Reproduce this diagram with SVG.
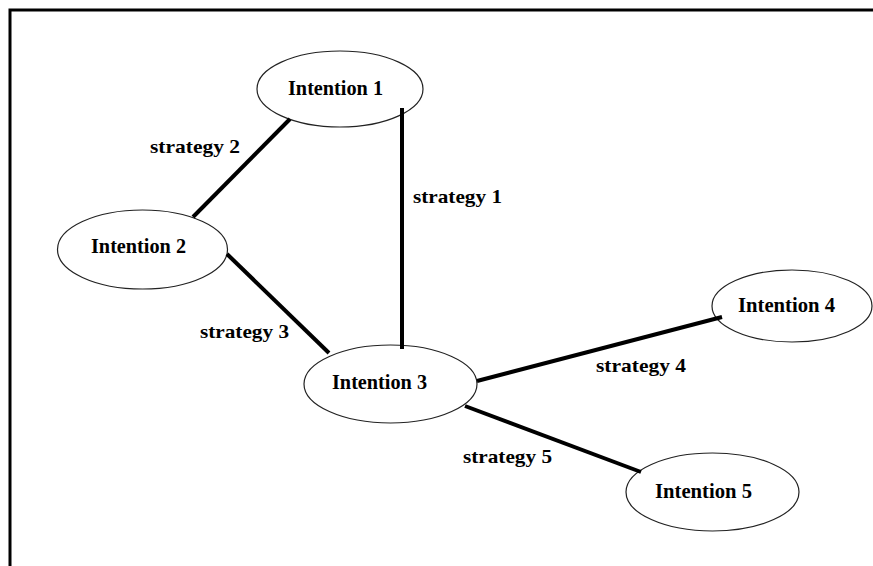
<svg xmlns="http://www.w3.org/2000/svg" width="873" height="566" viewBox="0 0 873 566">
<style>
.node ellipse{fill:#fff;stroke:#222;stroke-width:1.2}
.node text{font-family:"Liberation Serif","Times New Roman",serif;font-weight:bold;font-size:20px;fill:#000}
.edge line{stroke:#000;stroke-width:4;stroke-linecap:butt}
.lbl{font-family:"Liberation Serif","Times New Roman",serif;font-weight:bold;font-size:19.5px;fill:#000}
</style>
<rect width="873" height="566" fill="#fff"/>
<path d="M10,566 V10 H873" fill="none" stroke="#000" stroke-width="3"/>
<g id="intention1" class="node">
<ellipse cx="340" cy="89" rx="83" ry="38"/>
<text x="288" y="95" textLength="95" lengthAdjust="spacingAndGlyphs">Intention 1</text>
</g>
<g id="intention2" class="node">
<ellipse cx="142.5" cy="249.5" rx="85" ry="39.5"/>
<text x="91" y="253" textLength="95" lengthAdjust="spacingAndGlyphs">Intention 2</text>
</g>
<g id="intention3" class="node">
<ellipse cx="390.5" cy="384" rx="86.5" ry="39"/>
<text x="332" y="389" textLength="95" lengthAdjust="spacingAndGlyphs">Intention 3</text>
</g>
<g id="intention4" class="node">
<ellipse cx="792" cy="306" rx="80" ry="36"/>
<text x="738" y="312" textLength="97" lengthAdjust="spacingAndGlyphs">Intention 4</text>
</g>
<g id="intention5" class="node">
<ellipse cx="712.5" cy="492" rx="86.5" ry="39"/>
<text x="655" y="498" textLength="97" lengthAdjust="spacingAndGlyphs">Intention 5</text>
</g>
<g id="connectors" class="edge">
<line x1="402" y1="108" x2="402" y2="349"/>
<line x1="290" y1="119" x2="193" y2="217"/>
<line x1="227" y1="254" x2="329" y2="353"/>
<line x1="477" y1="381" x2="722" y2="317"/>
<line x1="465" y1="406" x2="641" y2="472"/>
</g>
<g id="labels">
<text class="lbl" x="150" y="153" textLength="90" lengthAdjust="spacingAndGlyphs">strategy 2</text>
<text class="lbl" x="413" y="203" textLength="89" lengthAdjust="spacingAndGlyphs">strategy 1</text>
<text class="lbl" x="200" y="338" textLength="89" lengthAdjust="spacingAndGlyphs">strategy 3</text>
<text class="lbl" x="596" y="372" textLength="90" lengthAdjust="spacingAndGlyphs">strategy 4</text>
<text class="lbl" x="463" y="463" textLength="89" lengthAdjust="spacingAndGlyphs">strategy 5</text>
</g>
</svg>
